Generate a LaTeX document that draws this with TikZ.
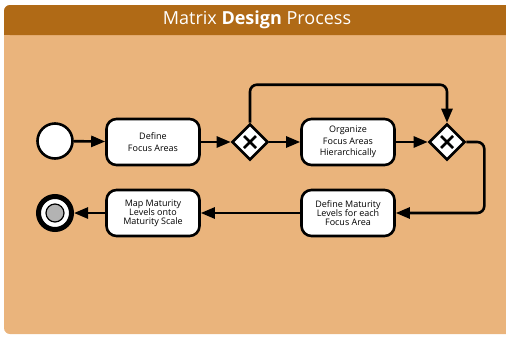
\documentclass[tikz,border=0pt]{standalone}
\usepackage{fontspec}
\setmainfont{Open Sans}
\usepackage{xcolor}
\usepackage{tikz}
\usetikzlibrary{shapes.geometric,arrows.meta}
\definecolor{barbrown}{HTML}{B06A16}
\definecolor{panelsand}{HTML}{EAB47C}
\definecolor{innergrey}{HTML}{B3B3B3}
\tikzset{task/.style={rectangle,rounded corners=10pt,draw,fill=white,line width=2.6pt,minimum width=93pt,minimum height=46pt,inner sep=2pt,align=center,font=\fontsize{9}{11.5}\selectfont},
  gate/.style={diamond,draw,fill=white,line width=2.6pt,minimum size=36pt,inner sep=0pt,
    path picture={\draw[line width=2.8pt] ([shift={(-6pt,-6pt)}]path picture bounding box.center) -- ++(12pt,12pt)
      ([shift={(-6pt,6pt)}]path picture bounding box.center) -- ++(12pt,-12pt);}},
  startev/.style={circle,draw,fill=white,line width=2.6pt,minimum size=35pt,inner sep=0pt},
  endev/.style={circle,draw,fill=white,line width=5pt,minimum size=33pt,inner sep=0pt},
  flow/.style={->,line width=2.6pt}}

\begin{document}
\begin{tikzpicture}[x=1pt,y=-1pt,>={Triangle[length=14pt,width=11pt]}]
        \useasboundingbox (0,0) rectangle (506,338);
        \clip (0,0) rectangle (506,338);
        % panel, cut off at the right edge
        \fill[panelsand,rounded corners=6pt] (4,5) rectangle (530,334);
        \fill[barbrown,rounded corners=6pt] (4,5) rectangle (530,35);
        \fill[barbrown] (4,20) rectangle (530,35);
        \node[text=white,font=\fontsize{18}{21}\selectfont] (title) at (257,20) {Matrix \textbf{Design} Process};

        \node[startev] (start) at (55,141) {};
        \node[task] (focus) at (153,142) {Define\\Focus Areas};
        \node[gate] (g1) at (250,142) {};
        \node[task] (organize) at (348,142) {Organize\\Focus Areas\\Hierarchically};
        \node[gate] (g2) at (447,142) {};
        \node[task,font=\fontsize{9}{9.2}\selectfont] (levels) at (348,213) {Define Maturity\\Levels for each\\Focus Area};
        \node[task,font=\fontsize{9}{9.2}\selectfont] (scale) at (153,213) {Map Maturity\\Levels onto\\Maturity Scale};
        \node[endev] (end) at (55,213) {};
        \fill[innergrey,draw=black,line width=1.2pt] (end.center) circle (9pt);

        \draw [flow] (start) to (focus);
        \draw [flow] (focus) to (g1);
        \draw [flow] (g1) to (organize);
        \draw [flow] (organize) to (g2);
        \draw [flow,rounded corners=7pt] (g1.north) -- ++(0,-38) -| (g2.north);
        \draw [flow,rounded corners=7pt] (g2.east) -- ++(18,0) |- (levels.east);
        \draw [flow] (levels) to (scale);
        \draw [flow] (scale) to (end);
    \end{tikzpicture}
\end{document}
